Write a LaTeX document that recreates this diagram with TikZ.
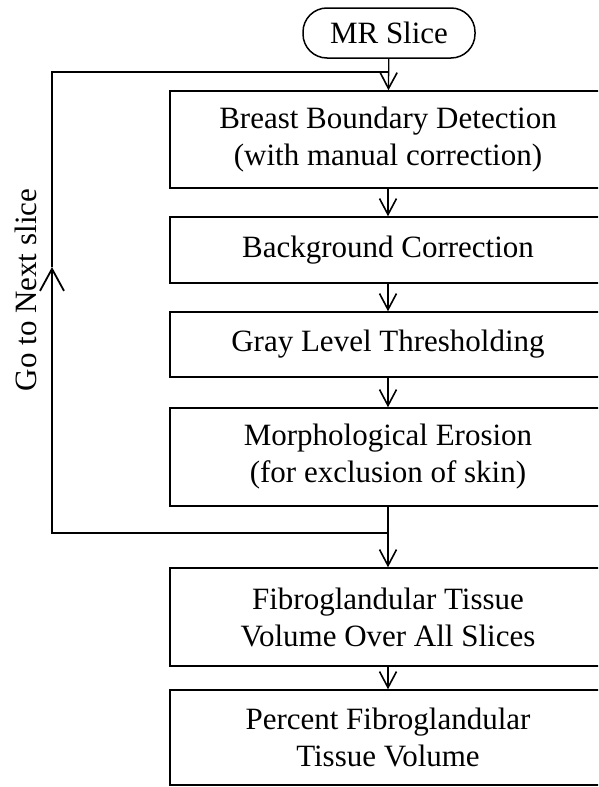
\documentclass[tikz,border=0pt]{standalone}
\usepackage{fontspec}
\setmainfont{Liberation Serif}
\usetikzlibrary{arrows.meta}
\tikzset{
  procbox/.style={draw, line width=1.5pt, minimum width=436pt, align=center,
    font=\fontsize{31}{37}\selectfont, inner sep=0pt},
  termbox/.style={draw, line width=1.5pt, rounded corners=24pt, minimum width=172pt,
    minimum height=50pt, font=\fontsize{31}{36}\selectfont},
  flow/.style={line width=1.3pt, -{Straight Barb[length=16pt,width=17pt,line width=1.6pt]}},
  backflow/.style={line width=1.3pt, -{Straight Barb[length=22pt,width=24pt,line width=1.8pt]}},
  loopline/.style={line width=1.3pt}
}
\begin{document}
\begin{tikzpicture}[x=1pt, y=-1pt]
% рамка
                \useasboundingbox ( 0, 0 ) rectangle ( 598, 787 );
                \clip ( 0, 0 ) rectangle ( 598, 787 );

% блоки
                \node [termbox] (mr) at ( 389, 33 ) {MR Slice};
                \node [procbox, minimum height=97pt] (bound) at ( 388, 139.5 ) {Breast Boundary Detection\\(with manual correction)};
                \node [procbox, minimum height=66pt] (backg) at ( 388, 250 ) {Background Correction};
                \node [procbox, minimum height=65pt] (thresh) at ( 388, 344.5 ) {Gray Level Thresholding};
                \node [procbox, minimum height=98pt] (erosion) at ( 388, 457 ) {Morphological Erosion\\(for exclusion of skin)};
                \node [procbox, minimum height=98pt] (volume) at ( 388, 617 ) {Fibroglandular Tissue\\Volume Over All Slices};
                \node [procbox, minimum height=95pt] (percent) at ( 388, 737.5 ) {Percent Fibroglandular\\Tissue Volume};

% стрелки
                \draw [flow] (mr) -- (bound);
                \draw [flow] (bound) -- (backg);
                \draw [flow] (backg) -- (thresh);
                \draw [flow] (thresh) -- (erosion);
                \draw [flow] (erosion) -- (volume);
                \draw [flow] (volume) -- (percent);

% цикл
                \coordinate (top) at ( 388, 72 );
                \coordinate (bottom) at ( 388, 533 );
                \coordinate (lefttop) at ( 52, 72 );
                \coordinate (leftbottom) at ( 52, 533 );
                \coordinate (leftmid) at ( 52, 267 );
                \draw [backflow] (bottom) -- (leftbottom) -- (leftmid);
                \draw [loopline] (leftmid) -- (lefttop) -- (top);
                \node [rotate=90, font=\fontsize{31}{36}\selectfont] (next) at ( 26, 290 ) {Go to Next slice};
            \end{tikzpicture}
\end{document}
